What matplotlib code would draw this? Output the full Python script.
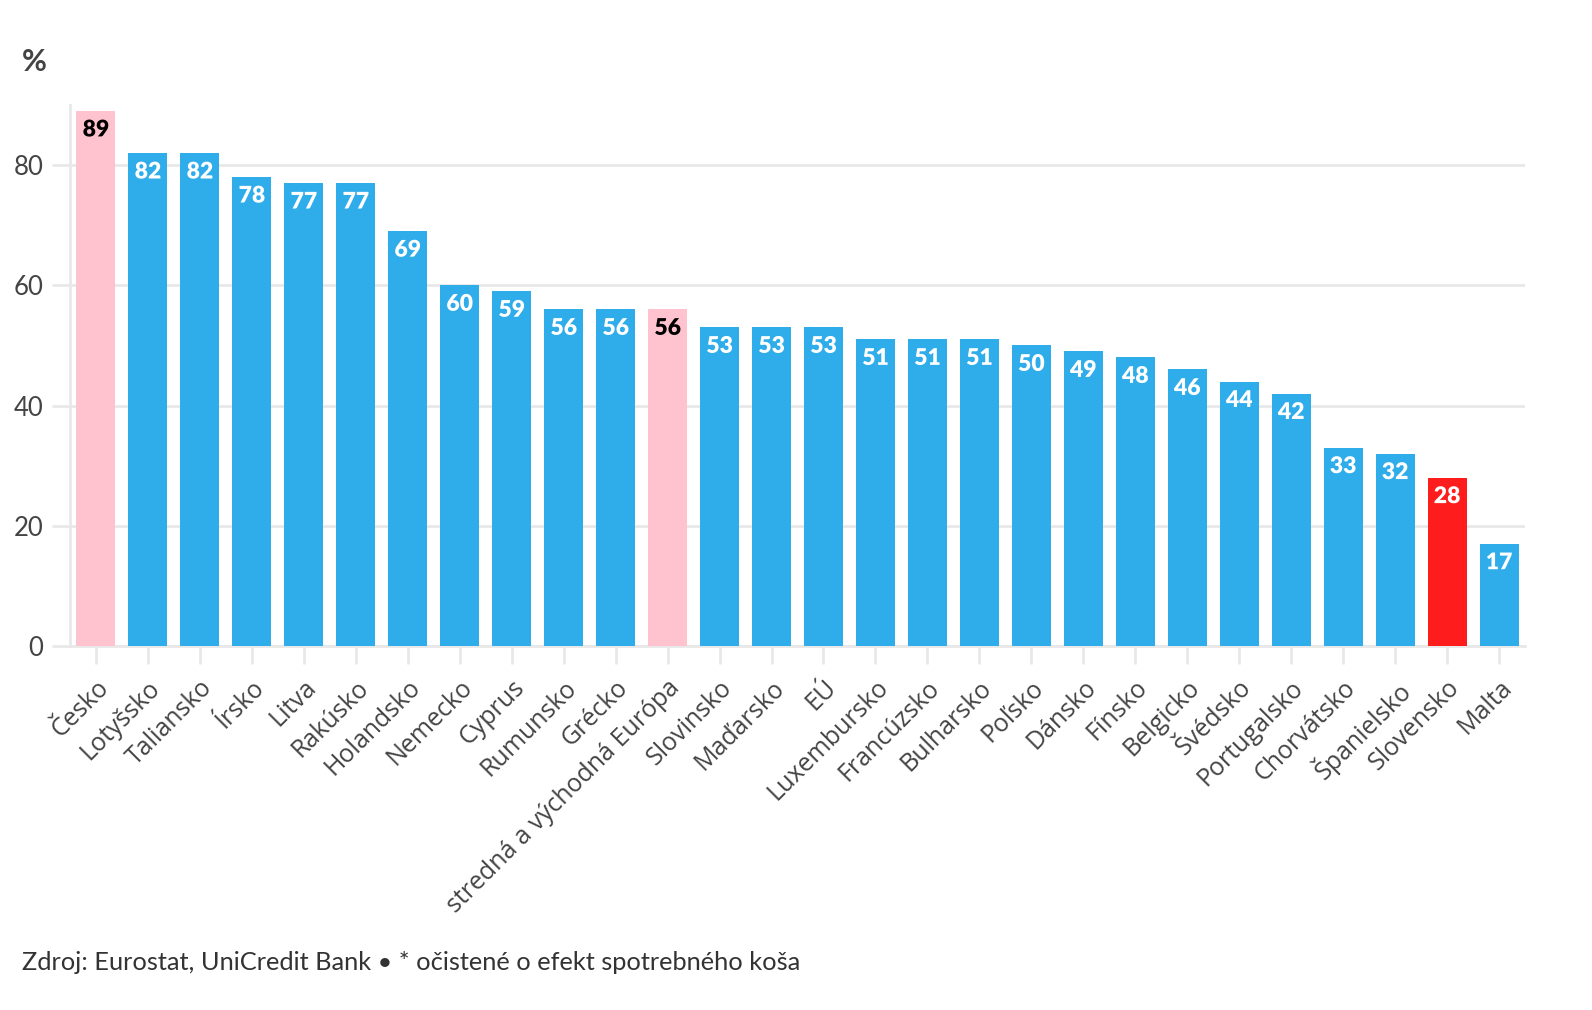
import matplotlib
matplotlib.use("Agg")
import matplotlib.pyplot as plt
import matplotlib.patheffects as pe

categories = ["Česko", "Lotyšsko", "Taliansko", "Írsko", "Litva", "Rakúsko", "Holandsko",
              "Nemecko", "Cyprus", "Rumunsko", "Grécko", "stredná a východná Európa",
              "Slovinsko", "Maďarsko", "EÚ", "Luxembursko", "Francúzsko", "Bulharsko",
              "Poľsko", "Dánsko", "Fínsko", "Belgicko", "Švédsko", "Portugalsko",
              "Chorvátsko", "Španielsko", "Slovensko", "Malta"]
values = [89, 82, 82, 78, 77, 77, 69, 60, 59, 56, 56, 56, 53, 53, 53, 51, 51, 51,
          50, 49, 48, 46, 44, 42, 33, 32, 28, 17]
highlight_pink = ["Česko", "stredná a východná Európa"]
highlight_red = ["Slovensko"]
yticks = [0, 20, 40, 60, 80]

BLUE = "#2fadeb"
PINK = "#ffc3d0"
RED = "#ff1c1c"

fig = plt.figure(figsize=(15.92, 10.10), dpi=100)
ax = fig.add_axes([70/1592, 364/1010, (1525-70)/1592, (646-105)/1010])

colors = []
for c in categories:
    if c in highlight_pink:
        colors.append(PINK)
    elif c in highlight_red:
        colors.append(RED)
    else:
        colors.append(BLUE)

x = list(range(len(categories)))
ax.bar(x, values, width=0.75, color=colors, zorder=3)

for xi, v, col in zip(x, values, colors):
    tc = "black" if col == PINK else "white"
    t = ax.text(xi, v - 1.4, str(v), ha="center", va="top", fontsize=16.5,
                fontweight="heavy", family="Lato", color=tc, zorder=4)
    t.set_path_effects([pe.withStroke(linewidth=3, foreground=col)])

ax.set_xlim(-0.5, len(categories) - 0.5)
ax.set_ylim(0, 90)
ax.set_yticks(yticks)
ax.set_yticklabels([str(v) for v in yticks], fontsize=18.5, family="Lato", color="#444444")
ax.set_xticks(x)
ax.set_xticklabels(categories, rotation=45, ha="right", rotation_mode="anchor",
                   fontsize=18, family="Open Sans", color="#444444")

ax.grid(axis="y", color="#e8e8e8", linewidth=2, zorder=0)
ax.tick_params(axis="y", length=13, width=2, color="#e8e8e8", pad=6)
ax.tick_params(axis="x", length=13, width=2, color="#e8e8e8", pad=8)
for s in ["top", "right"]:
    ax.spines[s].set_visible(False)
ax.spines["left"].set_color("#e8e8e8")
ax.spines["left"].set_linewidth(2)
ax.spines["bottom"].set_color("#e8e8e8")
ax.spines["bottom"].set_linewidth(2)
ax.set_axisbelow(True)

fig.text(22/1592, 1 - 62/1010, "%", fontsize=22, fontweight="bold", family="Lato",
         color="#444444", va="center", ha="left")
fig.text(22/1592, 1 - 962/1010,
         "Zdroj: Eurostat, UniCredit Bank • * očistené o efekt spotrebného koša",
         fontsize=18.3, family="Lato", color="#333333", va="center", ha="left")

fig.savefig("out.png", dpi=100, facecolor="white")
